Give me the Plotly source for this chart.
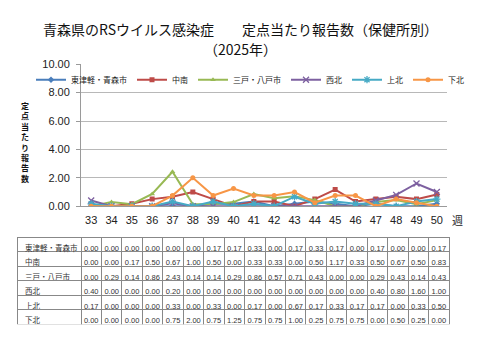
import plotly.graph_objects as go

weeks = list(range(33, 51))
series_names = ["東津軽・青森市", "中南", "三戸・八戸市", "西北", "上北", "下北"]
higashitsugaru = [0.00, 0.00, 0.00, 0.00, 0.00, 0.00, 0.17, 0.17, 0.33, 0.00, 0.17, 0.33, 0.17, 0.00, 0.17, 0.00, 0.00, 0.17]
chunan = [0.00, 0.00, 0.17, 0.50, 0.67, 1.00, 0.50, 0.00, 0.33, 0.33, 0.00, 0.50, 1.17, 0.33, 0.50, 0.67, 0.50, 0.83]
sannohe = [0.00, 0.29, 0.14, 0.86, 2.43, 0.14, 0.14, 0.29, 0.86, 0.57, 0.71, 0.43, 0.00, 0.00, 0.29, 0.43, 0.14, 0.43]
seihoku = [0.40, 0.00, 0.00, 0.00, 0.20, 0.00, 0.00, 0.00, 0.00, 0.00, 0.00, 0.00, 0.00, 0.00, 0.40, 0.80, 1.60, 1.00]
kamikita = [0.17, 0.00, 0.00, 0.00, 0.33, 0.00, 0.33, 0.00, 0.17, 0.00, 0.67, 0.17, 0.33, 0.17, 0.17, 0.00, 0.33, 0.50]
shimokita = [0.00, 0.00, 0.00, 0.00, 0.75, 2.00, 0.75, 1.25, 0.75, 0.75, 1.00, 0.25, 0.75, 0.75, 0.00, 0.50, 0.25, 0.00]
all_series = [higashitsugaru, chunan, sannohe, seihoku, kamikita, shimokita]
y_title = "定点当たり報告数"

colors = ["#4A7EBB", "#BE4B48", "#98B954", "#7D60A0", "#46AAC5", "#F79646"]
symbols = ["diamond", "square", "triangle-up", "x-thin", "asterisk-open", "circle"]

FONT = "Liberation Sans, Noto Sans CJK JP, sans-serif"
OFF = 8  # default page body margin
W, H = 480 - OFF, 360 - OFF


def px(x):
    return (x - OFF) / W


def py(y):
    return 1 - (y - OFF) / H


fig = go.Figure()
for name, vals, c, s in zip(series_names, all_series, colors, symbols):
    mk = dict(symbol=s, size=5, color=c)
    if s in ("x-thin", "asterisk-open"):
        mk = dict(symbol=s, size=6, color=c, line=dict(color=c, width=1.3))
    fig.add_trace(go.Scatter(x=weeks, y=vals, name=name, mode="lines+markers",
                             line=dict(color=c, width=2), marker=mk))

# table
fmt = lambda v: f"{v:.2f}"
header_vals = [series_names[0]] + [fmt(v) for v in all_series[0]]
cell_cols = [series_names[1:]] + [[fmt(all_series[r][i]) for r in range(1, 6)] for i in range(len(weeks))]
row_h = 14.5
fig.add_trace(go.Table(
    domain=dict(x=[px(17), px(449)], y=[py(330), py(239)]),
    columnwidth=[64] + [20.44] * len(weeks),
    header=dict(values=header_vals, height=row_h, align=["left"] + ["center"] * len(weeks),
                fill_color="white", line=dict(color="#888888", width=1),
                font=dict(family=FONT, size=7.5, color="#333333")),
    cells=dict(values=cell_cols, height=row_h, align=["left"] + ["center"] * len(weeks),
               fill_color="white", line=dict(color="#888888", width=1),
               font=dict(family=FONT, size=7.5, color="#333333")),
))

annotations = [
    dict(text="青森県のRSウイルス感染症　　定点当たり報告数（保健所別）", x=px(240), y=py(24),
         xanchor="center", yanchor="middle",
         font=dict(size=14, color="#111111", family="Noto Sans CJK JP")),
    dict(text="（2025年）", x=px(240), y=py(44), xanchor="center", yanchor="middle",
         font=dict(size=14, color="#111111", family="Noto Sans CJK JP")),
    dict(text="週", x=px(457), y=py(221), xanchor="center", yanchor="middle",
         font=dict(size=11, color="#222222", family="Noto Sans CJK JP")),
    dict(text="<b>" + "<br>".join(y_title) + "</b>", x=px(25), y=py(140), xanchor="center",
         yanchor="middle", align="center", borderpad=0,
         font=dict(size=8, color="#111111", family="Noto Sans CJK JP")),
]
for a in annotations:
    a.update(xref="paper", yref="paper", showarrow=False)

fig.update_layout(
    width=W, height=H, margin=dict(l=0, r=0, t=0, b=0),
    paper_bgcolor="white", plot_bgcolor="white",
    font=dict(family=FONT, color="#222222"),
    showlegend=True,
    legend=dict(orientation="h", x=px(250), xanchor="center", y=py(61), yanchor="top",
                font=dict(size=8, family=FONT), itemwidth=30, bgcolor="rgba(0,0,0,0)",
                tracegroupgap=0),
    xaxis=dict(domain=[px(81), px(447)], range=[32.5, 50.5], tickmode="array", tickvals=weeks,
               ticktext=[str(w) for w in weeks], showgrid=False, showline=True,
               linecolor="#9a9a9a", linewidth=1, ticks="", ticklabelstandoff=4,
               tickfont=dict(size=11, color="#222222"), zeroline=False, fixedrange=True),
    yaxis=dict(domain=[py(207), py(60)], range=[0, 10], dtick=2, tickformat=".2f",
               showgrid=True, gridcolor="#b8b8b8", gridwidth=1, zeroline=False, showline=True,
               linecolor="#9a9a9a", linewidth=1, ticks="outside", ticklen=4, tickcolor="#9a9a9a",
               ticklabelstandoff=4,
               tickfont=dict(size=11, color="#222222"), fixedrange=True),
    annotations=annotations,
)
fig.write_html("out.html")
